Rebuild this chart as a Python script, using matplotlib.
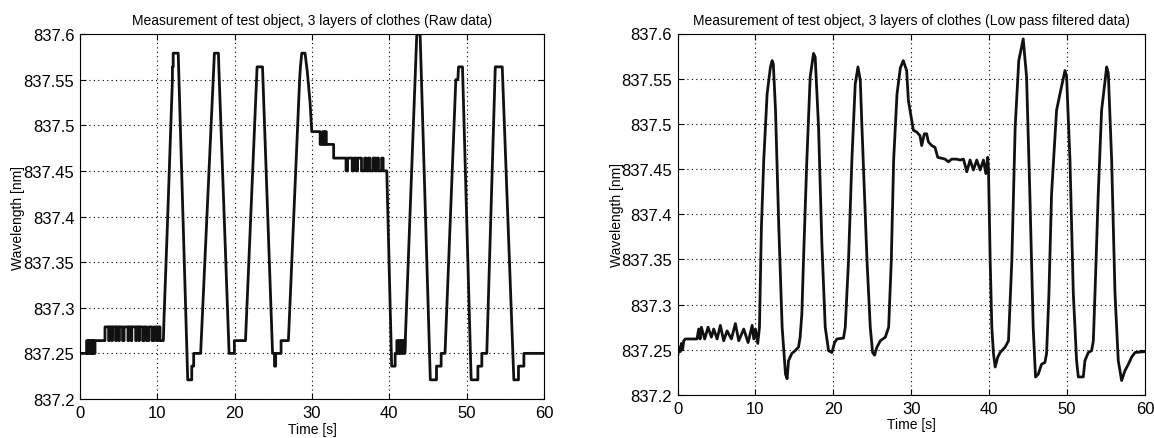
import matplotlib
matplotlib.use("Agg")
import matplotlib.pyplot as plt

# ---------------- data ----------------
titles = ["Measurement of test object, 3 layers of clothes (Raw data)",
          "Measurement of test object, 3 layers of clothes (Low pass filtered data)"]
x_label = "Time [s]"
y_label = "Wavelength [nm]"
x_ticks = [0, 10, 20, 30, 40, 50, 60]
y_ticks = [837.2, 837.25, 837.3, 837.35, 837.4, 837.45, 837.5, 837.55, 837.6]
y_tick_labels = ["837.2", "837.25", "837.3", "837.35", "837.4", "837.45", "837.5", "837.55", "837.6"]

# Raw data (quantised), (time, wavelength); repeated times are vertical jumps
raw_points = [
    (0, 837.25), (0.86, 837.25), (0.86, 837.264), (0.95, 837.264), (0.95, 837.25), (1.05, 837.25),
    (1.05, 837.264), (1.15, 837.264), (1.15, 837.25), (1.25, 837.25), (1.25, 837.264), (1.4, 837.264),
    (1.4, 837.25), (1.5, 837.25), (1.5, 837.264), (1.6, 837.264), (1.6, 837.25), (1.7, 837.25),
    (1.7, 837.264), (1.8, 837.264), (1.8, 837.25), (1.94, 837.25), (1.94, 837.264), (3.23, 837.264),
    (3.23, 837.279), (3.7, 837.279), (3.7, 837.264), (3.8, 837.264), (3.8, 837.279), (4.1, 837.279),
    (4.1, 837.264), (4.2, 837.264), (4.2, 837.279), (4.6, 837.279), (4.6, 837.264), (4.7, 837.264),
    (4.7, 837.279), (5.0, 837.279), (5.0, 837.264), (5.1, 837.264), (5.1, 837.279), (5.5, 837.279),
    (5.5, 837.264), (5.7, 837.264), (5.7, 837.279), (6.2, 837.279), (6.2, 837.264), (6.3, 837.264),
    (6.3, 837.279), (6.6, 837.279), (6.6, 837.264), (6.7, 837.264), (6.7, 837.279), (7.2, 837.279),
    (7.2, 837.264), (7.3, 837.264), (7.3, 837.279), (7.6, 837.279), (7.6, 837.264), (7.7, 837.264),
    (7.7, 837.279), (8.1, 837.279), (8.1, 837.264), (8.3, 837.264), (8.3, 837.279), (8.6, 837.279),
    (8.6, 837.264), (8.9, 837.264), (8.9, 837.279), (9.3, 837.279), (9.3, 837.264), (9.6, 837.264),
    (9.6, 837.279), (9.9, 837.279), (9.9, 837.264), (10.1, 837.264), (10.1, 837.279), (10.35, 837.279),
    (10.35, 837.264), (10.78, 837.264),
    (10.87, 837.29), (11.3, 837.39), (11.74, 837.496), (11.95, 837.55), (11.95, 837.564), (12.05, 837.564),
    (12.05, 837.579), (12.7, 837.579), (12.75, 837.564), (13.93, 837.221), (14.45, 837.221),
    (14.45, 837.236), (14.7, 837.236), (14.7, 837.25), (15.6, 837.25), (17.3, 837.564), (17.38, 837.579),
    (17.9, 837.579), (17.95, 837.564), (19.28, 837.25), (19.96, 837.25), (19.96, 837.264), (21.4, 837.264),
    (22.9, 837.564), (23.6, 837.564), (24.9, 837.25), (25.15, 837.25), (25.15, 837.236), (25.3, 837.236),
    (25.3, 837.25), (26.0, 837.25), (26.0, 837.264), (26.95, 837.264), (28.4, 837.55), (28.5, 837.564),
    (28.68, 837.579), (29.1, 837.579), (29.4, 837.558), (29.75, 837.525), (29.97, 837.493),
    (31.05, 837.493), (31.05, 837.479), (31.4, 837.479), (31.4, 837.493), (31.55, 837.493),
    (31.55, 837.479), (31.7, 837.479), (31.7, 837.493), (31.85, 837.493), (31.85, 837.479),
    (32.8, 837.479), (32.8, 837.464), (34.4, 837.464), (34.4, 837.45), (34.6, 837.45), (34.6, 837.464),
    (35.2, 837.464), (35.2, 837.45), (35.4, 837.45), (35.4, 837.464), (35.7, 837.464), (35.7, 837.45),
    (35.9, 837.45), (35.9, 837.464), (36.4, 837.464), (36.4, 837.45), (36.8, 837.45), (36.8, 837.464),
    (37.0, 837.464), (37.0, 837.45), (37.3, 837.45), (37.3, 837.464), (37.5, 837.464), (37.5, 837.45),
    (37.9, 837.45), (37.9, 837.464), (38.2, 837.464), (38.2, 837.45), (38.4, 837.45), (38.4, 837.464),
    (38.6, 837.464), (38.6, 837.45), (39.0, 837.45), (39.0, 837.464), (39.2, 837.464), (39.2, 837.45),
    (39.67, 837.45), (40.3, 837.236), (40.75, 837.236), (40.75, 837.25), (40.97, 837.25),
    (40.97, 837.264), (41.1, 837.264), (41.1, 837.25), (41.25, 837.25), (41.25, 837.264),
    (41.4, 837.264), (41.4, 837.25), (41.55, 837.25), (41.55, 837.264), (41.7, 837.264), (41.7, 837.25),
    (41.85, 837.25), (41.85, 837.264), (42.0, 837.264), (42.0, 837.25), (43.55, 837.6), (43.98, 837.6),
    (45.3, 837.221), (46.1, 837.221), (46.1, 837.236), (46.7, 837.236), (46.7, 837.25), (47.2, 837.25),
    (48.6, 837.55), (48.86, 837.55), (48.95, 837.564), (49.46, 837.564), (50.58, 837.221),
    (51.45, 837.221), (51.45, 837.236), (51.96, 837.236), (51.96, 837.25), (52.6, 837.25),
    (53.7, 837.564), (54.6, 837.564), (56.1, 837.221), (56.7, 837.221), (56.7, 837.236), (57.4, 837.236),
    (57.4, 837.25), (60.0, 837.25),
]

# Low pass filtered data, (time, wavelength)
filt_points = [
    (0, 837.242), (0.2, 837.253), (0.35, 837.248), (0.5, 837.257), (0.65, 837.25), (0.8, 837.26),
    (1.0, 837.262), (2.5, 837.262), (2.72, 837.273), (2.9, 837.262), (3.06, 837.275), (3.49, 837.262),
    (3.92, 837.275), (4.35, 837.264), (4.65, 837.273), (5.08, 837.262), (5.5, 837.277), (5.93, 837.26),
    (6.36, 837.271), (6.92, 837.262), (7.43, 837.279), (7.86, 837.26), (8.5, 837.273), (9.06, 837.258),
    (9.58, 837.277), (9.79, 837.262), (10.0, 837.273), (10.3, 837.257), (10.52, 837.275),
    (10.77, 837.386), (11.07, 837.46), (11.5, 837.533), (11.93, 837.563), (12.15, 837.57),
    (12.3, 837.566), (12.58, 837.515), (13.0, 837.386), (13.43, 837.275), (13.86, 837.223),
    (14.07, 837.218), (14.25, 837.238), (14.46, 837.242), (14.68, 837.246), (15.1, 837.249),
    (15.53, 837.253), (15.74, 837.264), (15.96, 837.29), (16.17, 837.349), (16.6, 837.46),
    (17.03, 837.552), (17.46, 837.578), (17.67, 837.574), (18.1, 837.497), (18.53, 837.367),
    (18.96, 837.275), (19.39, 837.249), (19.82, 837.247), (20.16, 837.258), (20.46, 837.262),
    (21.31, 837.263), (21.53, 837.275), (21.95, 837.349), (22.38, 837.46), (22.81, 837.544),
    (23.16, 837.563), (23.46, 837.548), (23.67, 837.497), (24.32, 837.349), (24.74, 837.275),
    (25.04, 837.247), (25.29, 837.244), (25.6, 837.253), (26.03, 837.26), (26.67, 837.264),
    (27.1, 837.275), (27.44, 837.349), (27.74, 837.46), (28.17, 837.533), (28.6, 837.562),
    (28.98, 837.57), (29.41, 837.559), (29.63, 837.526), (30.05, 837.504), (30.27, 837.493),
    (30.7, 837.491), (31.12, 837.487), (31.34, 837.476), (31.68, 837.489), (31.98, 837.489),
    (32.2, 837.48), (32.63, 837.476), (33.05, 837.474), (33.4, 837.463), (34.34, 837.461),
    (34.77, 837.458), (35.2, 837.461), (35.84, 837.461), (36.27, 837.46), (36.7, 837.461),
    (37.13, 837.447), (37.55, 837.46), (37.98, 837.449), (38.41, 837.46), (38.84, 837.449),
    (39.27, 837.46), (39.57, 837.445), (39.82, 837.463), (39.91, 837.45), (40.13, 837.349),
    (40.34, 837.275), (40.55, 837.246), (40.77, 837.231), (41.11, 837.242), (41.41, 837.247),
    (42.05, 837.253), (42.48, 837.26), (42.91, 837.349), (43.34, 837.497), (43.8, 837.57),
    (44.37, 837.594), (44.8, 837.552), (45.22, 837.423), (45.65, 837.275), (45.95, 837.22),
    (46.3, 837.223), (46.72, 837.234), (47.15, 837.236), (47.37, 837.246), (47.67, 837.312),
    (48.01, 837.423), (48.65, 837.515), (49.08, 837.533), (49.73, 837.559), (49.94, 837.552),
    (50.37, 837.46), (50.8, 837.312), (51.22, 837.238), (51.44, 837.22), (52.08, 837.22),
    (52.29, 837.238), (52.72, 837.247), (53.15, 837.249), (53.37, 837.26), (53.58, 837.312),
    (54.0, 837.423), (54.43, 837.515), (55.08, 837.563), (55.29, 837.556), (55.72, 837.46),
    (56.15, 837.312), (56.57, 837.238), (57.0, 837.216), (57.43, 837.227), (57.86, 837.234),
    (58.29, 837.242), (58.72, 837.247), (60.0, 837.248),
]

raw_t = [p[0] for p in raw_points]
raw_v = [p[1] for p in raw_points]
filt_t = [p[0] for p in filt_points]
filt_v = [p[1] for p in filt_points]

# ---------------- style ----------------
plt.rcParams["font.family"] = ["Liberation Sans", "DejaVu Sans"]

fig = plt.figure(figsize=(11.54, 4.39), dpi=100)
W, H = 1154, 439
# axes boxes in pixels: left, top, right, bottom
boxes = [(80, 35, 544, 400), (677.5, 34.5, 1145, 396)]
ylabel_x = [18, 617]
xlabel_y = [430, 425]
series = [(raw_t, raw_v), (filt_t, filt_v)]

for i in range(2):
    l, t, r, b = boxes[i]
    ax = fig.add_axes([l / W, (H - b) / H, (r - l) / W, (b - t) / H])
    x, y = series[i]
    ax.plot(x, y, color="#111111", linewidth=2.0)
    ax.set_xlim(0, 60)
    ax.set_ylim(837.2, 837.6)
    ax.set_xticks(x_ticks)
    ax.set_yticks(y_ticks)
    ax.set_yticklabels(y_tick_labels)
    ax.grid(True, color="black", linestyle=(0, (1, 3)), linewidth=0.8)
    ax.tick_params(direction="in", length=4, width=0.8, top=True, right=True,
                   labelsize=12, colors="black", pad=4)
    for s in ax.spines.values():
        s.set_linewidth(0.8)
        s.set_color("black")
    ax.set_title(titles[i], fontsize=10, pad=7)
    ax.set_xlabel(x_label, fontsize=10)
    ax.set_ylabel(y_label, fontsize=10)
    ax.yaxis.set_label_coords((ylabel_x[i] - l) / (r - l), 0.5)
    ax.xaxis.set_label_coords(0.5, (b - xlabel_y[i]) / (b - t))
    ax.xaxis.label.set_va("center")
    ax.yaxis.label.set_va("center")

fig.savefig("out.png", dpi=100)
